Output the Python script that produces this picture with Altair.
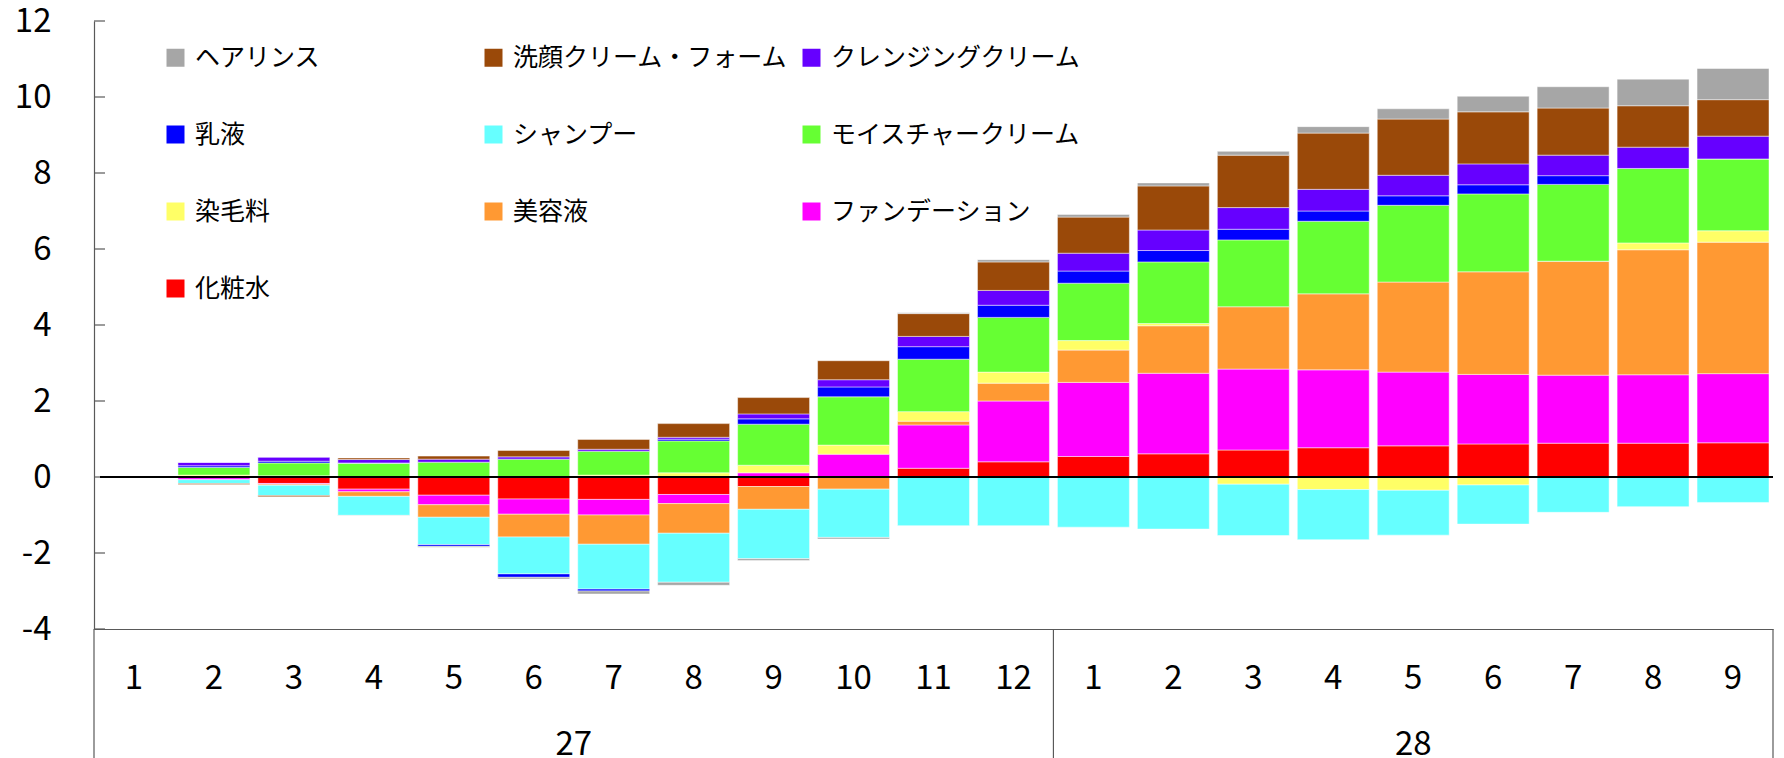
import altair as alt
import pandas as pd

# Category axis: fiscal year (平成27 / 28) and month
years = ["27"] * 12 + ["28"] * 9
months = list(range(1, 13)) + list(range(1, 10))
cats = [f"{y}-{m}" for y, m in zip(years, months)]

# Series listed in stacking order, nearest to the zero line first
series = [
    "化粧水", "ファンデーション", "美容液", "染毛料", "モイスチャークリーム",
    "シャンプー", "乳液", "クレンジングクリーム", "洗顔クリーム・フォーム", "ヘアリンス",
]
colors = [
    "#FF0000", "#FF00FF", "#FF9933", "#FFFF66", "#66FF33",
    "#66FFFF", "#0000FF", "#6600FF", "#9A4909", "#A6A6A6",
]

# Contribution by item, one value per month (27/1 has no data)
keshosui = [None, -0.02, -0.17, -0.32, -0.48, -0.58, -0.59, -0.46, -0.25, 0.00, 0.23,
            0.40, 0.54, 0.61, 0.71, 0.77, 0.82, 0.87, 0.89, 0.89, 0.90]
foundation = [None, -0.05, -0.02, -0.07, -0.25, -0.40, -0.41, -0.24, 0.11, 0.60, 1.14,
              1.60, 1.95, 2.12, 2.13, 2.05, 1.94, 1.83, 1.79, 1.80, 1.82]
biyoeki = [None, 0.00, -0.03, -0.12, -0.33, -0.60, -0.77, -0.78, -0.60, -0.32, 0.10,
           0.47, 0.85, 1.25, 1.64, 2.00, 2.37, 2.70, 3.00, 3.29, 3.46]
senmoryo = [None, 0.05, 0.03, 0.00, 0.00, 0.00, 0.05, 0.11, 0.20, 0.24, 0.25,
            0.29, 0.25, 0.06, -0.19, -0.33, -0.35, -0.21, 0.00, 0.18, 0.30]
moisture = [None, 0.20, 0.34, 0.36, 0.39, 0.47, 0.63, 0.84, 1.08, 1.27, 1.38,
            1.44, 1.51, 1.62, 1.76, 1.91, 2.02, 2.05, 2.02, 1.96, 1.89]
shampoo = [None, -0.10, -0.27, -0.50, -0.72, -0.97, -1.18, -1.29, -1.30, -1.27, -1.28,
           -1.28, -1.32, -1.37, -1.35, -1.32, -1.18, -1.03, -0.93, -0.78, -0.67]
nyueki = [None, 0.045, 0.045, 0.01, -0.045, -0.09, -0.05, 0.045, 0.14, 0.26, 0.33,
          0.32, 0.32, 0.30, 0.28, 0.27, 0.25, 0.24, 0.23, 0.00, 0.00]
cleansing = [None, 0.09, 0.11, 0.09, 0.08, 0.06, 0.05, 0.05, 0.13, 0.19, 0.27,
             0.39, 0.47, 0.54, 0.57, 0.57, 0.54, 0.55, 0.54, 0.56, 0.60]
sengan = [None, -0.03, -0.03, 0.04, 0.08, 0.17, 0.26, 0.36, 0.43, 0.50, 0.60,
          0.75, 0.95, 1.16, 1.38, 1.48, 1.48, 1.37, 1.24, 1.09, 0.96]
hairrinse = [None, 0.00, 0.00, -0.01, -0.025, -0.045, -0.08, -0.08, -0.05, -0.04, 0.02,
             0.06, 0.07, 0.08, 0.10, 0.17, 0.27, 0.41, 0.56, 0.70, 0.82]

values = [keshosui, foundation, biyoeki, senmoryo, moisture,
          shampoo, nyueki, cleansing, sengan, hairrinse]

y_ticks = [-4, -2, 0, 2, 4, 6, 8, 10, 12]

rows = []
for k, (name, vals) in enumerate(zip(series, values)):
    for cat, v in zip(cats, vals):
        if v is not None:
            rows.append({"cat": cat, "series": name, "value": v, "ord": k})
df = pd.DataFrame(rows)

# Year groups on the category axis: boundaries and centre of each group
bounds = [0]
for y in ["27", "28"]:
    bounds.append(bounds[-1] + years.count(y))
year_df = pd.DataFrame({
    "year": ["27", "28"],
    "start": bounds[:-1],
    "end": bounds[1:],
})
bound_df = pd.DataFrame({"b": bounds})

PLOT_W = 1679
PLOT_H = 608
PAD_L, PAD_T = 94, 21
PAD_B = 758 - PAD_T - PLOT_H
PAD_R = 1784 - PAD_L - PLOT_W

FONT = "Noto Sans CJK JP"
AXIS_GRAY = "#595959"

y_scale = alt.Scale(domain=[-4, 12], nice=False)
idx_scale = alt.Scale(domain=[0, len(cats)], nice=False, zero=False)

bars = alt.Chart(df).mark_bar(stroke="white", strokeWidth=0.6, strokeOpacity=0.8).encode(
    x=alt.X(
        "cat:N",
        sort=cats,
        scale=alt.Scale(domain=cats, paddingInner=0.1, paddingOuter=0.05),
        axis=alt.Axis(
            title=None,
            labelExpr="split(datum.value, '-')[1]",
            labelAngle=0,
            labelFont=FONT,
            labelFontSize=33,
            labelColor="black",
            labelBaseline="middle",
            labelPadding=49,
            ticks=False,
            tickSize=0,
            domainColor=AXIS_GRAY,
            domainWidth=1.2,
        ),
    ),
    y=alt.Y(
        "value:Q",
        stack="zero",
        scale=y_scale,
        axis=alt.Axis(
            title=None,
            values=y_ticks,
            labelExpr="'' + datum.value",
            labelFont=FONT,
            labelFontSize=33,
            labelColor="black",
            labelPadding=43,
            ticks=False,
            tickSize=0,
            grid=False,
            domainColor=AXIS_GRAY,
            domainWidth=1.2,
        ),
    ),
    color=alt.Color(
        "series:N",
        scale=alt.Scale(domain=series[::-1], range=colors[::-1]),
        legend=alt.Legend(
            title=None,
            orient="none",
            direction="horizontal",
            legendX=69,
            legendY=24,
            columns=3,
            gridAlign="all",
            symbolType="square",
            symbolSize=324,
            symbolStrokeWidth=0,
            labelFont=FONT,
            labelFontSize=25,
            labelColor="black",
            labelOffset=7,
            labelLimit=400,
            columnPadding=10,
            rowPadding=51,
            padding=0,
        ),
    ),
    order=alt.Order("ord:Q", sort="ascending"),
)

# Inside tick marks on the value axis
ticks = alt.Chart(pd.DataFrame({"t": y_ticks})).mark_rule(color=AXIS_GRAY, strokeWidth=1.2).encode(
    y=alt.Y("t:Q", scale=y_scale),
    x=alt.value(0),
    x2=alt.value(11),
)

# Zero line drawn over the bars
zero = alt.Chart(pd.DataFrame({"v": [0]})).mark_rule(color="black", strokeWidth=2).encode(
    y=alt.Y("v:Q", scale=y_scale),
    x=alt.value(6),
    x2=alt.value(PLOT_W),
)

# Year-group separators below the plot
seps = alt.Chart(bound_df).mark_rule(color=AXIS_GRAY, strokeWidth=1.2).encode(
    x=alt.X("b:Q", scale=idx_scale, axis=None),
    y=alt.value(PLOT_H),
    y2=alt.value(PLOT_H + PAD_B),
)

year_labels = alt.Chart(year_df).transform_calculate(
    mid="(datum.start + datum.end) / 2"
).mark_text(font=FONT, fontSize=33, color="black", baseline="middle").encode(
    x=alt.X("mid:Q", scale=idx_scale, axis=None),
    y=alt.value(724),
    text="year:N",
)

chart = alt.layer(bars, ticks, zero, seps, year_labels).resolve_scale(
    x="independent"
).properties(
    width=PLOT_W,
    height=PLOT_H,
    autosize=alt.AutoSizeParams(type="none"),
    padding={"left": PAD_L, "top": PAD_T, "right": PAD_R, "bottom": PAD_B},
    background="white",
).configure_view(stroke=None)

chart.save("out.html", embed_options={"renderer": "svg", "actions": False})
